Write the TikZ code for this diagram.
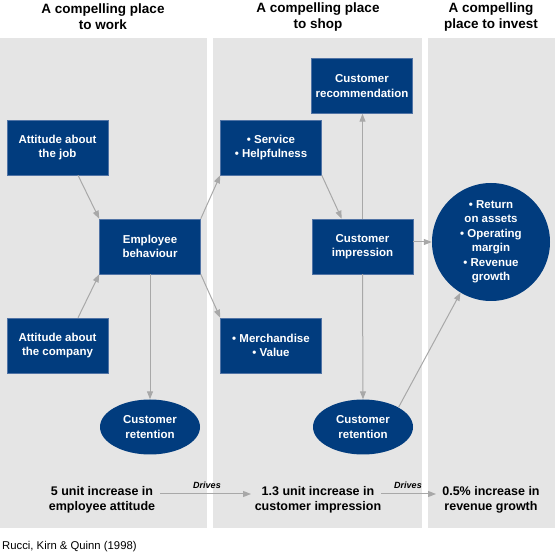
\documentclass[tikz,border=0pt]{standalone}
\usepackage{fontspec}
\setmainfont{Liberation Sans}
\usetikzlibrary{arrows.meta,shapes.geometric,calc}
\definecolor{navy}{RGB}{1,60,126}
\definecolor{navyedge}{RGB}{80,115,165}
\definecolor{panel}{RGB}{229,229,229}
\definecolor{conn}{RGB}{168,168,168}
\tikzset{
  box/.style={rectangle,fill=navy,draw=navyedge,line width=0.5pt,minimum width=101pt,minimum height=55pt,inner sep=1pt,align=center,text=white,font=\fontsize{11.5}{14.5}\selectfont\bfseries},
  oval/.style={ellipse,fill=navy,draw=none,minimum width=100pt,minimum height=55pt,inner sep=0pt,align=center,text=white,font=\fontsize{11.5}{14.5}\selectfont\bfseries},
  bigcirc/.style={circle,fill=navy,draw=none,minimum size=118pt,inner sep=0pt,align=center,text=white,font=\fontsize{11.5}{14.5}\selectfont\bfseries},
  head/.style={align=center,font=\fontsize{13.5}{16.3}\selectfont\bfseries,inner sep=0pt},
  foot/.style={align=center,font=\fontsize{12.5}{15}\selectfont\bfseries,inner sep=0pt},
  link/.style={draw=conn,line width=1pt,-{Triangle[length=8pt,width=6pt]}},
  drives/.style={font=\fontsize{9}{10}\selectfont\bfseries\itshape,inner sep=0pt}
}
\begin{document}
\begin{tikzpicture}[x=1pt,y=-1pt]
\useasboundingbox (0,0) rectangle (555,553);
% panels
\fill[panel] (0,38) rectangle (207,528);
\fill[panel] (213,38) rectangle (422,528);
\fill[panel] (428,38) rectangle (555,528);
% headings
\node[head] (h1) at (103,17) {A compelling place\\to work};
\node[head] (h2) at (318,17) {A compelling place\\to shop};
\node[head] (h3) at (491,17) {A compelling\\place to invest};
% nodes
\node[box] (rec) at (362,86) {Customer\\recommendation};
\node[box] (job) at (57.5,147.5) {Attitude about\\the job};
\node[box] (emp) at (150,246.5) {Employee\\behaviour};
\node[box] (svc) at (271,147.5) {• Service\\• Helpfulness};
\node[box] (imp) at (362.5,246.5) {Customer\\impression};
\node[bigcirc] (circ) at (491,242) {• Return\\on assets\\• Operating\\margin\\• Revenue\\growth};
\node[box] (comp) at (57.5,345.5) {Attitude about\\the company};
\node[box] (mer) at (271,345.5) {• Merchandise\\• Value};
\node[oval] (ret1) at (150,427) {Customer\\retention};
\node[oval] (ret2) at (363,427) {Customer\\retention};
% bottom texts
\node[foot] (f1) at (102,500) {5 unit increase in\\employee attitude};
\node[foot] (f2) at (318,500) {1.3 unit increase in\\customer impression};
\node[foot] (f3) at (491,500) {0.5\% increase in\\revenue growth};
\coordinate (a1s) at (160,494);
\coordinate (a1e) at (251,494);
\coordinate (a2s) at (381,494);
\coordinate (a2e) at (436,494);
\draw[link] (a1s) -- (a1e);
\draw[link] (a2s) -- (a2e);
\node[drives] (d1) at (207,485) {Drives};
\node[drives] (d2) at (408,485) {Drives};
% caption
\node[anchor=west,inner sep=0pt,font=\fontsize{11.3}{13}\selectfont] (cap) at (2,547) {Rucci, Kirn \& Quinn (1998)};
% connectors
\draw[link] ($(job.south)+(20.5,0)$) -- (emp.north west);
\draw[link] ($(comp.north)+(20.5,0)$) -- (emp.south west);
\draw[link] (emp.north east) -- (svc.south west);
\draw[link] (emp.south east) -- (mer.north west);
\draw[link] (emp.south) -- (ret1.north);
\draw[link] (svc.south east) -- ($(imp.north west)+(30,0)$);
\draw[link] (imp.north) -- (rec.south -| imp.north);
\draw[link] (imp.south) -- (ret2.north);
\draw[link] ($(imp.east)+(0,-4.5)$) -- (circ.west);
\draw[link] (ret2.north east) -- (circ.239);
\end{tikzpicture}
\end{document}
